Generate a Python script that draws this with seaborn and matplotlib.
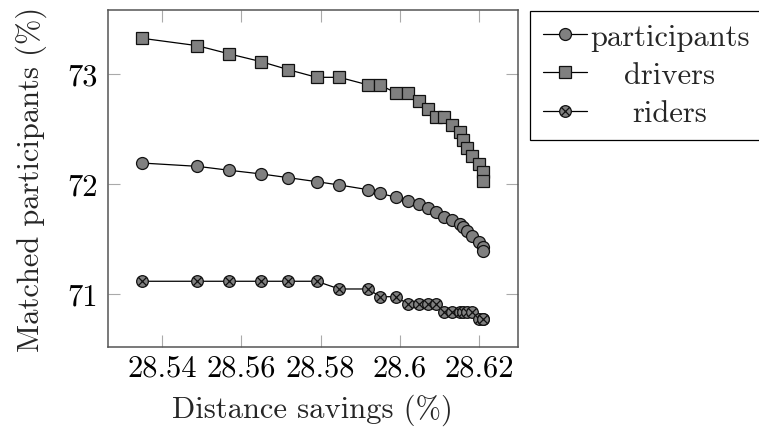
import numpy as np
import pandas as pd
import matplotlib
matplotlib.use("Agg")
import matplotlib.pyplot as plt
from matplotlib.path import Path
import seaborn as sns

# ---- data ----
distance_savings = [28.5349, 28.5489, 28.5570, 28.5650, 28.5719, 28.5790, 28.5847,
                    28.5920, 28.5950, 28.5990, 28.6020, 28.6049, 28.6070, 28.6090,
                    28.6111, 28.6131, 28.6151, 28.6160, 28.6170, 28.6181, 28.6200,
                    28.6210, 28.6210]
participants = [72.190, 72.160, 72.124, 72.091, 72.057, 72.021, 71.991, 71.948,
                71.916, 71.879, 71.846, 71.819, 71.782, 71.743, 71.704, 71.674,
                71.640, 71.607, 71.571, 71.531, 71.471, 71.426, 71.393]
drivers = [73.321, 73.254, 73.179, 73.109, 73.036, 72.967, 72.967, 72.898,
           72.898, 72.825, 72.825, 72.755, 72.680, 72.610, 72.610, 72.538,
           72.469, 72.399, 72.326, 72.251, 72.181, 72.106, 72.030]
riders = [71.118, 71.118, 71.118, 71.118, 71.118, 71.118, 71.048, 71.048,
          70.978, 70.978, 70.912, 70.912, 70.912, 70.912, 70.842, 70.842,
          70.842, 70.842, 70.842, 70.842, 70.776, 70.776, 70.776]
series_names = ["participants", "drivers", "riders"]
xtick_values = [28.54, 28.56, 28.58, 28.60, 28.62]
xtick_labels = ["28.54", "28.56", "28.58", "28.6", "28.62"]
ytick_values = [71, 72, 73]
ytick_labels = ["71", "72", "73"]

sns.set_style("ticks")
plt.rcParams["font.family"] = ["cmr10", "DejaVu Serif"]
plt.rcParams["mathtext.fontset"] = "cm"
plt.rcParams["axes.formatter.use_mathtext"] = True

FS = 22

fig = plt.figure(figsize=(7.59, 4.35), dpi=100)
ax = fig.add_axes([0.1419, 0.2, 0.6825 - 0.1419, 0.9754 - 0.2])

# circle with cross marker
circ = Path.unit_circle()
d = 0.7071
l1 = Path([[-d, -d], [d, d]], [Path.MOVETO, Path.LINETO])
l2 = Path([[-d, d], [d, -d]], [Path.MOVETO, Path.LINETO])
otimes = Path.make_compound_path(circ, l1, l2)

markers = {"participants": "o", "drivers": "s", "riders": otimes}
values = {"participants": participants, "drivers": drivers, "riders": riders}
msizes = {"participants": 8.6, "drivers": 8.2, "riders": 8.4}

for name in series_names:
    df = pd.DataFrame({"x": distance_savings, "y": values[name]})
    sns.lineplot(data=df, x="x", y="y", estimator=None, sort=False, ax=ax,
                 color="black", linewidth=0.9, marker=markers[name],
                 markersize=msizes[name], markerfacecolor="#808080",
                 markeredgecolor="#111111", markeredgewidth=0.9,
                 label=name, legend=False)

ax.set_xlim(28.5263, 28.6298)
ax.set_ylim(70.522, 73.580)
ax.set_xticks(xtick_values)
ax.set_xticklabels(xtick_labels)
ax.set_yticks(ytick_values)
ax.set_yticklabels(ytick_labels)
ax.tick_params(direction="in", length=8.6, width=0.8, color="#aaaaaa",
               top=True, right=True, labelsize=FS, labelcolor="black")
ax.tick_params(axis="x", pad=5)
ax.tick_params(axis="y", pad=7)
for s in ax.spines.values():
    s.set_visible(True)
    s.set_color("#555555")
    s.set_linewidth(1.1)

ax.set_xlabel("Distance savings (%)", fontsize=FS, labelpad=9)
ax.set_ylabel("Matched participants (%)", fontsize=FS, labelpad=15)

handles, labels = ax.get_legend_handles_labels()
leg = fig.legend(handles, labels, loc="upper left",
                 bbox_to_anchor=(530 / 759, 1 - 11.7 / 435),
                 borderaxespad=0, fontsize=FS, frameon=True, fancybox=False,
                 edgecolor="black", framealpha=1, handlelength=1.45,
                 handletextpad=0.1, borderpad=0.42, labelspacing=0.35)
leg.get_frame().set_linewidth(0.9)

# center legend labels (pgfplots style)
fig.canvas.draw()
r = fig.canvas.get_renderer()
texts = leg.get_texts()
widths = [t.get_window_extent(r).width for t in texts]
mw = max(widths)
for t, w in zip(texts, widths):
    t.set_x((mw - w) / 2)

fig.savefig("out.png", dpi=100)
